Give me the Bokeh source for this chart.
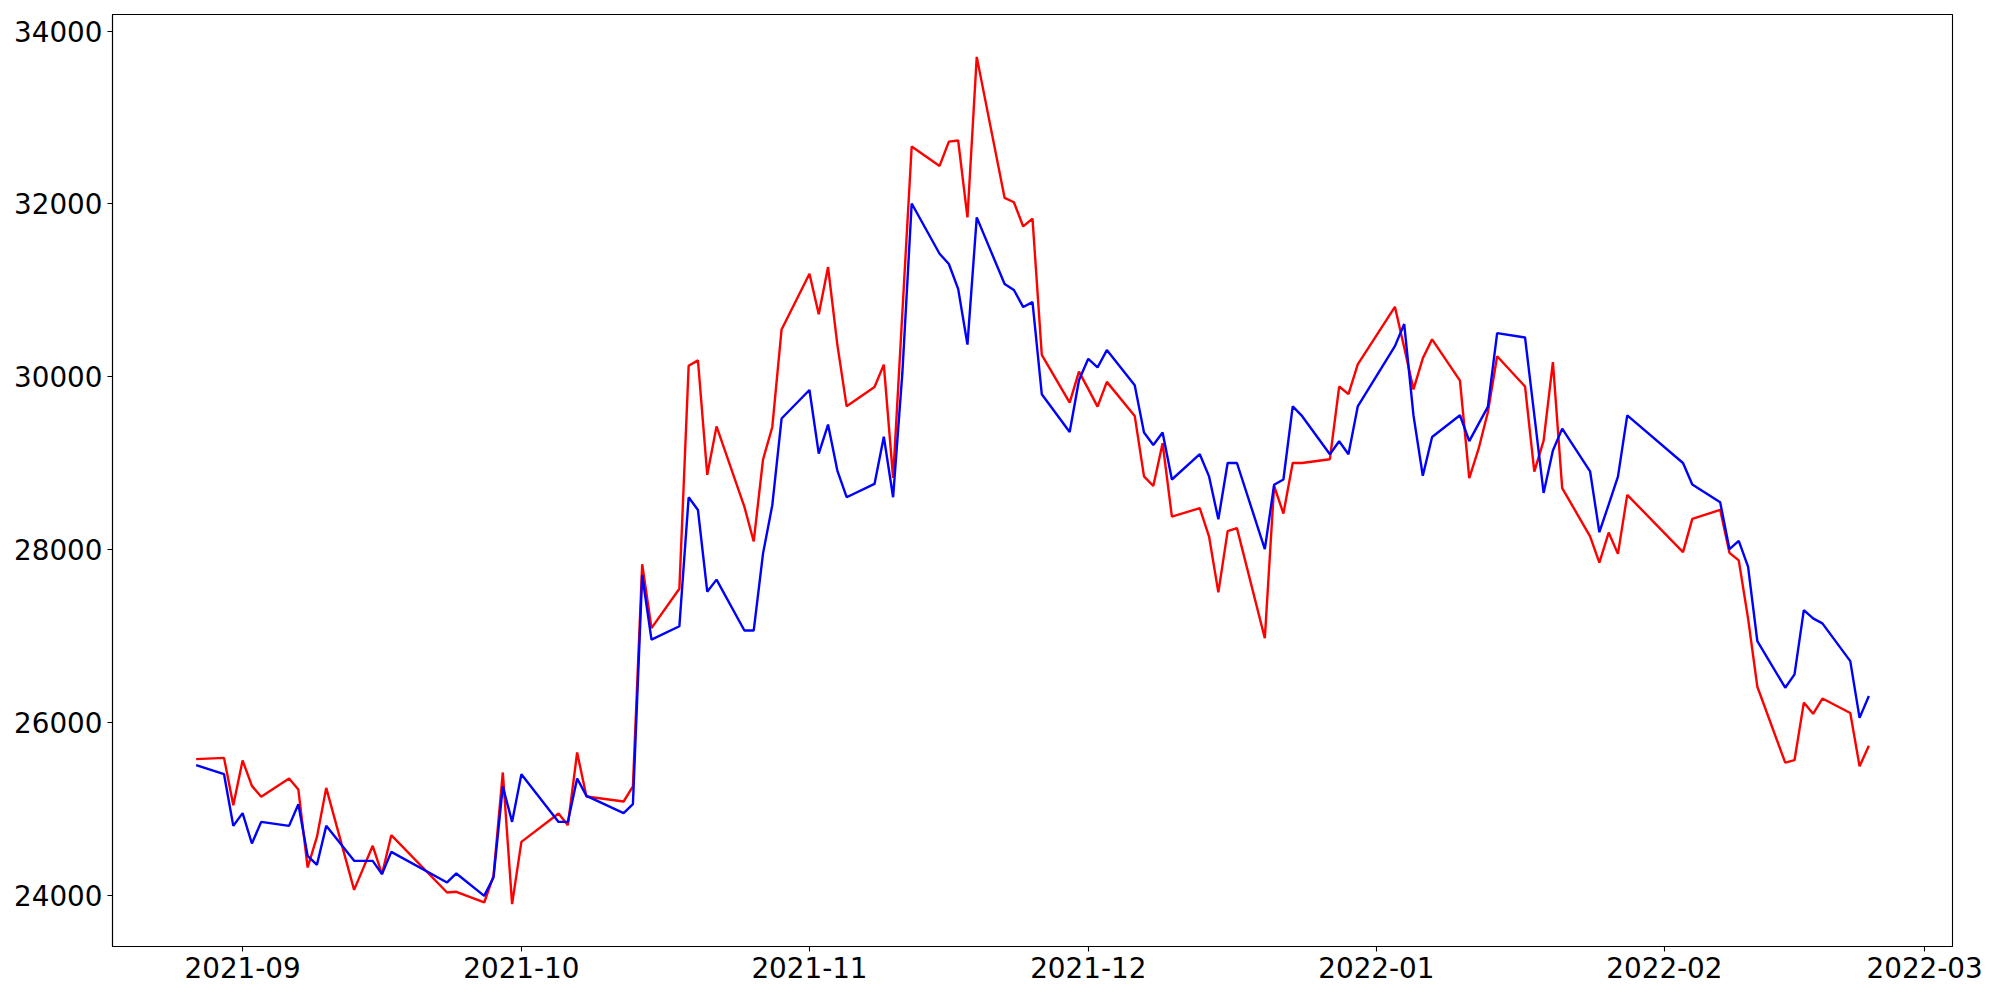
import pandas as pd
from bokeh.plotting import figure
from bokeh.models import (Range1d, DatetimeTickFormatter, MonthsTicker,
                          SingleIntervalTicker, BasicTickFormatter)
from bokeh.embed import file_html
from bokeh.resources import INLINE

# ---- data ----
dates = [
    "2021-08-27", "2021-08-30", "2021-08-31",
    "2021-09-01", "2021-09-02", "2021-09-03",
    "2021-09-06", "2021-09-07", "2021-09-08", "2021-09-09", "2021-09-10",
    "2021-09-13", "2021-09-14", "2021-09-15", "2021-09-16", "2021-09-17",
    "2021-09-23", "2021-09-24",
    "2021-09-27", "2021-09-28", "2021-09-29", "2021-09-30", "2021-10-01",
    "2021-10-05", "2021-10-06", "2021-10-07", "2021-10-08",
    "2021-10-12", "2021-10-13", "2021-10-14", "2021-10-15",
    "2021-10-18", "2021-10-19", "2021-10-20", "2021-10-21", "2021-10-22",
    "2021-10-25", "2021-10-26", "2021-10-27", "2021-10-28", "2021-10-29",
    "2021-11-01", "2021-11-02", "2021-11-03", "2021-11-04", "2021-11-05",
    "2021-11-08", "2021-11-09", "2021-11-10", "2021-11-11", "2021-11-12",
    "2021-11-15", "2021-11-16", "2021-11-17", "2021-11-18", "2021-11-19",
    "2021-11-22", "2021-11-23", "2021-11-24", "2021-11-25", "2021-11-26",
    "2021-11-29", "2021-11-30", "2021-12-01", "2021-12-02", "2021-12-03",
    "2021-12-06", "2021-12-07", "2021-12-08", "2021-12-09", "2021-12-10",
    "2021-12-13", "2021-12-14", "2021-12-15", "2021-12-16", "2021-12-17",
    "2021-12-20", "2021-12-21", "2021-12-22", "2021-12-23", "2021-12-24",
    "2021-12-27", "2021-12-28", "2021-12-29", "2021-12-30",
    "2022-01-03", "2022-01-04", "2022-01-05", "2022-01-06", "2022-01-07",
    "2022-01-10", "2022-01-11", "2022-01-12", "2022-01-13", "2022-01-14",
    "2022-01-17", "2022-01-18", "2022-01-19", "2022-01-20", "2022-01-21",
    "2022-01-24", "2022-01-25", "2022-01-26", "2022-01-27", "2022-01-28",
    "2022-02-03", "2022-02-04",
    "2022-02-07", "2022-02-08", "2022-02-09", "2022-02-10", "2022-02-11",
    "2022-02-14", "2022-02-15", "2022-02-16", "2022-02-17", "2022-02-18",
    "2022-02-21", "2022-02-22", "2022-02-23",
]

red_values = [
    25574, 25589, 25041,
    25559, 25265, 25138,
    25350, 25222, 24320, 24674, 25242,
    24061, 24316, 24571, 24243, 24694,
    24031, 24039,
    23915, 24224, 25420, 23896, 24617,
    24945, 24810, 25651, 25142,
    25084, 25258, 27830, 27091,
    27547, 30127, 30190, 28865, 29426,
    28494, 28094, 29040, 29419, 30548,
    31192, 30723, 31270, 30373, 29658,
    29881, 30141, 28830, 30750, 32666,
    32441, 32722, 32735, 31844, 33703,
    32070, 32020, 31740, 31831, 30254,
    29700, 30060, 29860, 29655, 29941,
    29547, 28847, 28736, 29232, 28381,
    28479, 28151, 27504, 28214, 28248,
    26973, 28736, 28417, 29002, 29002,
    29046, 29887, 29799, 30144,
    30810, 30340, 29854, 30214, 30433,
    29955, 28828, 29165, 29590, 30238,
    29888, 28902, 29260, 30170, 28712,
    28152, 27850, 28197, 27950, 28633,
    27971, 28355,
    28460, 27962, 27875, 27203, 26412,
    25533, 25562, 26229, 26099, 26276,
    26108, 25491, 25730,
]

blue_values = [
    25504, 25400, 24802,
    24949, 24598, 24848,
    24802, 25053, 24455, 24351, 24802,
    24397, 24397, 24397, 24243, 24501,
    24147, 24251,
    23992, 24205, 25258, 24848, 25400,
    24848, 24848, 25350, 25149,
    24949, 25053, 27703, 26958,
    27112, 28606, 28458, 27512, 27652,
    27063, 27063, 27953, 28514, 29517,
    29847, 29111, 29447, 28914, 28606,
    28760, 29307, 28606, 30050, 32006,
    31424, 31305, 31018, 30373, 31845,
    31074, 31004, 30807, 30864, 29798,
    29360, 29960, 30208, 30108, 30309,
    29901, 29356, 29210, 29356, 28811,
    29104, 28847, 28350, 29002, 29002,
    28005, 28750, 28811, 29657, 29547,
    29104, 29254, 29104, 29657,
    30355, 30610, 29550, 28855, 29303,
    29555, 29255, 29455, 29652, 30505,
    30455, 29556, 28656, 29146, 29400,
    28906, 28201, 28520, 28845, 29554,
    29002, 28753,
    28547, 28004, 28100, 27803, 26939,
    26401, 26555, 27299, 27203, 27146,
    26709, 26052, 26305,
]

y_tick_interval = 2000

# ---- figure ----
x = pd.to_datetime(dates)
span = x.max() - x.min()
x_start = (x.min() - span * 0.05).to_pydatetime()
x_end = (x.max() + span * 0.05).to_pydatetime()

all_vals = red_values + blue_values
ymin, ymax = min(all_vals), max(all_vals)
pad = (ymax - ymin) * 0.05

p = figure(
    frame_width=1840, frame_height=932,
    min_border_left=112, min_border_right=36,
    min_border_top=14, min_border_bottom=40,
    x_axis_type="datetime",
    x_range=Range1d(x_start, x_end),
    y_range=Range1d(ymin - pad, ymax + pad),
    output_backend="svg", toolbar_location=None,
    background_fill_color="white", border_fill_color="white",
)

p.line(x, red_values, line_color="#ff0000", line_width=2.4)
p.line(x, blue_values, line_color="#0000ff", line_width=2.4)

p.xgrid.visible = False
p.ygrid.visible = False
p.outline_line_color = "black"
p.outline_line_width = 1.1
p.outline_line_alpha = 1.0

p.xaxis.ticker = MonthsTicker(months=list(range(1, 13)))
fmt = "%Y-%m"
p.xaxis.formatter = DatetimeTickFormatter(
    milliseconds=fmt, seconds=fmt, minsec=fmt, minutes=fmt, hourmin=fmt,
    hours=fmt, days=fmt, months=fmt, years=fmt)
p.yaxis.ticker = SingleIntervalTicker(interval=y_tick_interval, num_minor_ticks=0)
p.yaxis.formatter = BasicTickFormatter(use_scientific=False)

for ax in (p.xaxis, p.yaxis):
    ax.major_label_text_font = "DejaVu Sans"
    ax.major_label_text_font_size = "27.8px"
    ax.major_label_text_color = "black"
    ax.axis_line_color = "black"
    ax.axis_line_width = 1.1
    ax.major_tick_line_color = "black"
    ax.major_tick_line_width = 1.1
    ax.major_tick_out = 5
    ax.major_tick_in = 0
    ax.minor_tick_line_color = None
    ax.major_label_standoff = 5

open("out.html", "w").write(file_html(p, INLINE))
